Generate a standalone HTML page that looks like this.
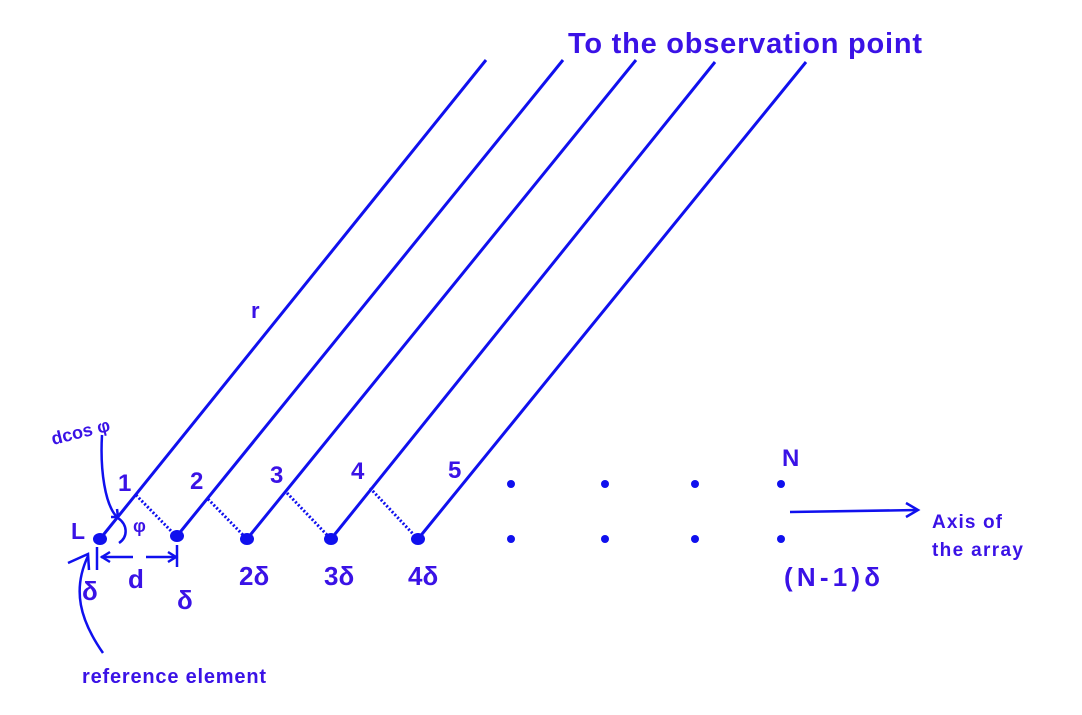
<!DOCTYPE html>
<html><head><meta charset="utf-8"><style>
html,body{margin:0;padding:0;background:#fff}
svg{display:block}
text{font-family:"Liberation Sans","DejaVu Sans",sans-serif;font-weight:bold;fill:#3a12e6}
</style></head><body>
<svg width="1082" height="715" viewBox="0 0 1082 715">
<g stroke="#1010ee" stroke-width="3" fill="none">
<line x1="100" y1="539" x2="486" y2="60"/>
<line x1="177" y1="536" x2="563" y2="60"/>
<line x1="247" y1="539" x2="636" y2="60"/>
<line x1="331" y1="539" x2="715" y2="62"/>
<line x1="418" y1="539" x2="806" y2="62"/>
</g>
<g stroke="#1010ee" stroke-width="3" stroke-dasharray="2,2">
<line x1="136" y1="495" x2="174" y2="534"/>
<line x1="208" y1="499" x2="244" y2="536"/>
<line x1="287" y1="493" x2="328" y2="536"/>
<line x1="370" y1="488" x2="414" y2="535"/>
</g>
<g fill="#1010ee">
<ellipse cx="100" cy="539" rx="7" ry="6"/>
<ellipse cx="177" cy="536" rx="7" ry="6"/>
<ellipse cx="247" cy="539" rx="7" ry="6"/>
<ellipse cx="331" cy="539" rx="7" ry="6"/>
<ellipse cx="418" cy="539" rx="7" ry="6"/>
<circle cx="511" cy="484" r="4"/><circle cx="605" cy="484" r="4"/><circle cx="695" cy="484" r="4"/><circle cx="781" cy="484" r="4"/>
<circle cx="511" cy="539" r="4"/><circle cx="605" cy="539" r="4"/><circle cx="695" cy="539" r="4"/><circle cx="781" cy="539" r="4"/>
</g>
<g stroke="#1010ee" stroke-width="2.5" fill="none">
<line x1="790" y1="512" x2="918" y2="510"/>
<polyline points="906,503 918,510 906,517"/>
<path d="M102,435 C100,470 105,505 117,517"/>
<polyline points="111,517 118,517 117,509"/>
<path d="M118,518 C128,525 128,537 119,543"/>
<path d="M103,653 C80,620 72,590 88,556"/>
<polyline points="68,563 88,554 89,570"/>
<line x1="97" y1="547" x2="97" y2="570"/>
<line x1="177" y1="545" x2="177" y2="567"/>
<line x1="101" y1="557" x2="133" y2="557"/><line x1="146" y1="557" x2="176" y2="557"/>
<polyline points="110,552 102,557 110,562"/><polyline points="168,552 176,557 168,562"/>
</g>
<text x="568" y="53" font-size="29" textLength="354">To the observation point</text>
<text x="251" y="318" font-size="22">r</text>
<text x="53" y="445" font-size="18" transform="rotate(-14 53 445)">dcos  φ</text>
<text x="118" y="491" font-size="24">1</text>
<text x="190" y="489" font-size="24">2</text>
<text x="270" y="483" font-size="24">3</text>
<text x="351" y="479" font-size="24">4</text>
<text x="448" y="478" font-size="24">5</text>
<text x="782" y="466" font-size="24">N</text>
<text x="133" y="532" font-size="18">φ</text>
<text x="71" y="539" font-size="23">L</text>
<text x="82" y="600" font-size="26">δ</text>
<text x="128" y="588" font-size="26">d</text>
<text x="177" y="609" font-size="26">δ</text>
<text x="239" y="585" font-size="26">2δ</text>
<text x="324" y="585" font-size="26">3δ</text>
<text x="408" y="585" font-size="26">4δ</text>
<text x="784" y="586" font-size="26" textLength="96">(N-1)δ</text>
<text x="932" y="528" font-size="19" textLength="70">Axis of</text>
<text x="932" y="556" font-size="19" textLength="91">the array</text>
<text x="82" y="683" font-size="20" textLength="184">reference element</text>
</svg>
</body></html>
